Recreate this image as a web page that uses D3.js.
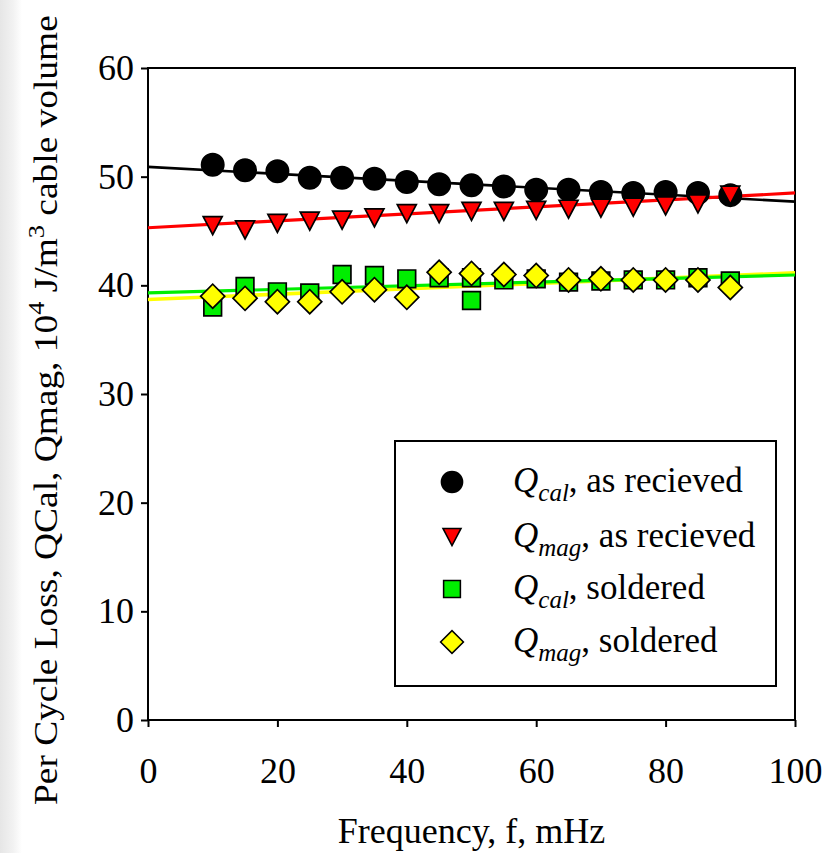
<!DOCTYPE html>
<html>
<head>
<meta charset="utf-8">
<script src="https://cdn.jsdelivr.net/npm/d3@7"></script>
<style>
  body { margin: 0; background: #fff; }
  svg { display: block; }
  text { font-family: "Liberation Serif", "Times New Roman", serif; fill: #000; }
</style>
</head>
<body>
<svg id="chart" width="840" height="853"></svg>
<script>
// Per-cycle loss vs. frequency, cable as received and soldered
const freq = [10, 15, 20, 25, 30, 35, 40, 45, 50, 55, 60, 65, 70, 75, 80, 85, 90];
const qCalReceived = [51.1, 50.6, 50.5, 49.9, 49.9, 49.8, 49.5, 49.3, 49.2, 49.1, 48.8, 48.8, 48.6, 48.5, 48.6, 48.5, 48.3];
const qMagReceived = [45.5, 45.1, 45.7, 45.9, 46.0, 46.2, 46.6, 46.6, 46.8, 46.8, 46.9, 47.0, 47.1, 47.2, 47.3, 47.5, 48.3];
const freqSolderedCal = [10, 15, 20, 25, 30, 35, 40, 45, 50, 50, 55, 60, 65, 70, 75, 80, 85, 90];
const qCalSoldered = [38.0, 39.9, 39.4, 39.3, 41.0, 40.9, 40.6, 40.7, 40.7, 38.6, 40.5, 40.6, 40.3, 40.4, 40.5, 40.5, 40.7, 40.4];
const qMagSoldered = [39.0, 38.8, 38.5, 38.5, 39.4, 39.6, 38.9, 41.2, 41.1, 41.0, 40.9, 40.5, 40.6, 40.5, 40.5, 40.5, 39.8];

// Linear fit lines, endpoints [f, Q]
const fitCalReceived = [[0, 50.9], [100, 47.7]];
const fitMagReceived = [[0, 45.3], [100, 48.5]];
const fitCalSoldered = [[0, 39.3], [100, 40.95]];
const fitMagSoldered = [[0, 38.7], [100, 41.15]];

const xTicks = [0, 20, 40, 60, 80, 100];
const yTicks = [0, 10, 20, 30, 40, 50, 60];

const svg = d3.select("#chart");
const W = 840, H = 853;
const plot = { left: 148, right: 795, top: 68, bottom: 720 };

const x = d3.scaleLinear().domain([0, 100]).range([plot.left, plot.right]);
const y = d3.scaleLinear().domain([0, 60]).range([plot.bottom, plot.top]);

// faint strip along the left edge
const defs = svg.append("defs");
const grad = defs.append("linearGradient").attr("id", "edge").attr("x1", 0).attr("x2", 1);
grad.append("stop").attr("offset", 0).attr("stop-color", "#e6e6e6");
grad.append("stop").attr("offset", 0.6).attr("stop-color", "#f2f2f2");
grad.append("stop").attr("offset", 1).attr("stop-color", "#ffffff");
svg.append("rect").attr("x", 0).attr("y", 0).attr("width", 22).attr("height", H).attr("fill", "url(#edge)");

// frame
svg.append("rect")
  .attr("x", plot.left).attr("y", plot.top)
  .attr("width", plot.right - plot.left).attr("height", plot.bottom - plot.top)
  .attr("fill", "none").attr("stroke", "#000").attr("stroke-width", 2);

// axes
const xAxis = d3.axisBottom(x).tickValues(xTicks).tickSize(7).tickPadding(30).tickFormat(d3.format("d"));
const yAxis = d3.axisLeft(y).tickValues(yTicks).tickSize(7).tickPadding(7).tickFormat(d3.format("d"));

const gx = svg.append("g").attr("transform", `translate(0,${plot.bottom})`).call(xAxis);
const gy = svg.append("g").attr("transform", `translate(${plot.left},0)`).call(yAxis);
[gx, gy].forEach(g => {
  g.attr("font-size", 36).attr("font-family", "Liberation Serif, serif");
  g.select(".domain").remove();
  g.selectAll(".tick line").attr("stroke", "#000").attr("stroke-width", 2);
  g.selectAll(".tick text").attr("fill", "#000");
});

// axis titles
svg.append("text")
  .attr("x", (plot.left + plot.right) / 2).attr("y", 843)
  .attr("text-anchor", "middle").attr("font-size", 36)
  .text("Frequency, f, mHz");

const yt = svg.append("text")
  .attr("transform", "translate(57,805) rotate(-90) scale(1.1,1)")
  .attr("text-anchor", "start").attr("font-size", 34);
yt.append("tspan").text("Per Cycle Loss, QCal, Qmag, 10");
yt.append("tspan").attr("font-size", 24).attr("dy", -13).text("4");
yt.append("tspan").attr("dy", 13).text(" J/m");
yt.append("tspan").attr("font-size", 24).attr("dy", -13).text("3");
yt.append("tspan").attr("dy", 13).text(" cable volume");

// fit lines
const line = d3.line().x(d => x(d[0])).y(d => y(d[1]));
const fits = [
  { data: fitCalReceived, color: "#000", w: 2.6 },
  { data: fitMagReceived, color: "#ff0000", w: 3.2 },
  { data: fitMagSoldered, color: "#ffff00", w: 3.6 },
  { data: fitCalSoldered, color: "#00ee00", w: 3.2 }
];
svg.append("g").selectAll("path").data(fits).join("path")
  .attr("d", d => line(d.data))
  .attr("fill", "none").attr("stroke", d => d.color).attr("stroke-width", d => d.w);

// marker shapes
function triangleDown(w, h) {
  const p = d3.path();
  p.moveTo(-w / 2, -h / 2); p.lineTo(w / 2, -h / 2); p.lineTo(0, h / 2); p.closePath();
  return p.toString();
}
const shapes = {
  circle: { d: d3.symbol(d3.symbolCircle, 390)(), rot: 0, fill: "#000" },
  triangle: { d: triangleDown(19, 18), rot: 0, fill: "#ff0000" },
  square: { d: d3.symbol(d3.symbolSquare, 312)(), rot: 0, fill: "#00ee00" },
  diamond: { d: d3.symbol(d3.symbolSquare, 290)(), rot: 45, fill: "#ffff00" }
};

const series = [
  { fs: freq, qs: qCalReceived, shape: "circle" },
  { fs: freq, qs: qMagReceived, shape: "triangle" },
  { fs: freqSolderedCal, qs: qCalSoldered, shape: "square" },
  { fs: freq, qs: qMagSoldered, shape: "diamond" }
];

const marks = svg.append("g");
series.forEach(s => {
  const sh = shapes[s.shape];
  marks.append("g").selectAll("path").data(s.fs.map((f, i) => [f, s.qs[i]])).join("path")
    .attr("d", sh.d)
    .attr("transform", d => `translate(${x(d[0])},${y(d[1])}) rotate(${sh.rot})`)
    .attr("fill", sh.fill)
    .attr("stroke", "#000").attr("stroke-width", 1.7);
});

// legend
const legend = svg.append("g");
legend.append("rect")
  .attr("x", 395).attr("y", 441).attr("width", 381).attr("height", 245)
  .attr("fill", "#fff").attr("stroke", "#000").attr("stroke-width", 2);

const legendItems = [
  { shape: "circle", sub: "cal", rest: " as recieved", cy: 482 },
  { shape: "triangle", sub: "mag", rest: " as recieved", cy: 537 },
  { shape: "square", sub: "cal", rest: " soldered", cy: 589 },
  { shape: "diamond", sub: "mag", rest: " soldered", cy: 642 }
];
legendItems.forEach(it => {
  const sh = shapes[it.shape];
  legend.append("path")
    .attr("d", sh.d)
    .attr("transform", `translate(452,${it.cy}) rotate(${sh.rot}) scale(0.95)`)
    .attr("fill", sh.fill).attr("stroke", "#000").attr("stroke-width", 1.6);
  const t = legend.append("text").attr("x", 513).attr("y", it.cy + 10).attr("font-size", 35);
  t.append("tspan").attr("font-style", "italic").text("Q");
  t.append("tspan").attr("font-style", "italic").attr("font-size", 25).attr("dy", 9).text(it.sub);
  t.append("tspan").attr("dy", -9).text(",");
  t.append("tspan").text(it.rest);
});
</script>
</body>
</html>
